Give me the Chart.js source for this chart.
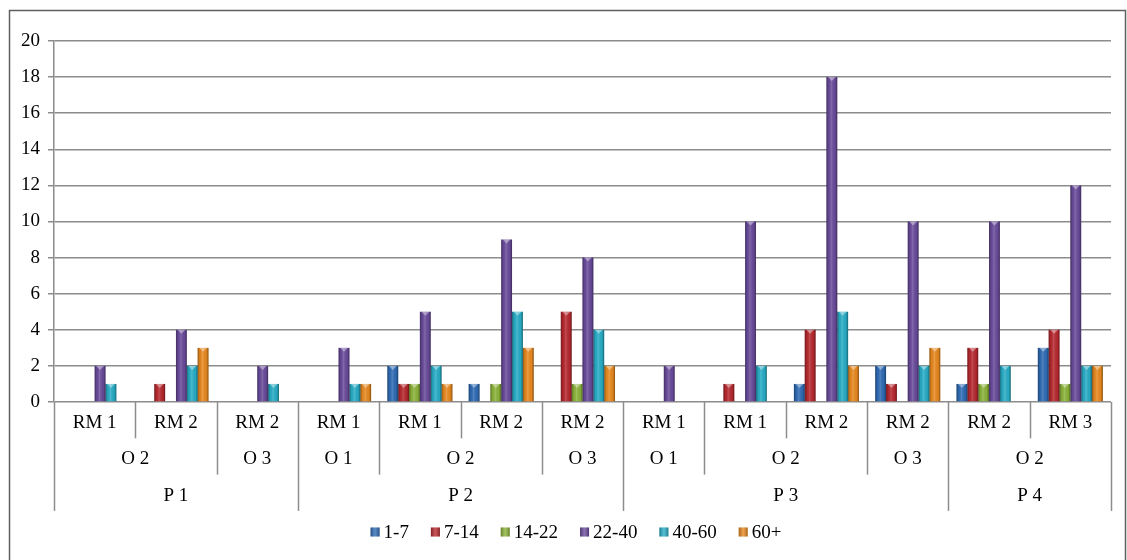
<!DOCTYPE html>
<html lang="en">
<head>
  <meta charset="UTF-8" />
  <title>Age groups per RM</title>
  <script src="https://cdn.jsdelivr.net/npm/chart.js"></script>
  <style>
    html, body { margin: 0; padding: 0; background: #fff; }
    .wrap { position: relative; width: 1127px; height: 560px; }
  </style>
</head>
<body>
  <div class="wrap"><canvas id="chart"></canvas></div>

  <script>
    // three levels of category labels
    const rmLabels = ['RM 1', 'RM 2', 'RM 2', 'RM 1', 'RM 1', 'RM 2', 'RM 2', 'RM 1', 'RM 1', 'RM 2', 'RM 2', 'RM 2', 'RM 3'];
    const oLabels  = ['O 2', 'O 2', 'O 3', 'O 1', 'O 2', 'O 2', 'O 3', 'O 1', 'O 2', 'O 2', 'O 3', 'O 2', 'O 2'];
    const pLabels  = ['P 1', 'P 1', 'P 1', 'P 2', 'P 2', 'P 2', 'P 2', 'P 3', 'P 3', 'P 3', 'P 3', 'P 4', 'P 4'];

    // series
    const ageGroups = ['1-7', '7-14', '14-22', '22-40', '40-60', '60+'];
    const age1to7   = [0, 0, 0, 0, 2, 1, 0, 0, 0, 1, 2, 1, 3];
    const age7to14  = [0, 1, 0, 0, 1, 0, 5, 0, 1, 4, 1, 3, 4];
    const age14to22 = [0, 0, 0, 0, 1, 1, 1, 0, 0, 0, 0, 1, 1];
    const age22to40 = [2, 4, 2, 3, 5, 9, 8, 2, 10, 18, 10, 10, 12];
    const age40to60 = [1, 2, 1, 1, 2, 5, 4, 0, 2, 5, 2, 2, 2];
    const age60plus = [0, 3, 0, 1, 1, 3, 2, 0, 0, 2, 3, 0, 2];

    const yMin = 0, yMax = 20, yStep = 2;

    const seriesValues = [age1to7, age7to14, age14to22, age22to40, age40to60, age60plus];
    const seriesColors = ['#2f6cb6', '#b8292f', '#8cb43a', '#6a4b9c', '#28aec8', '#ea8a1f'];

    const serif = '"Liberation Serif", "Times New Roman", serif';
    const fontPx = 19;
    const lineGray = '#8c8c8c';

    const decor = {
      id: 'decor',
      beforeDraw(chart) {
        const ctx = chart.ctx;
        ctx.save();
        ctx.strokeStyle = '#5f5f5f';
        ctx.lineWidth = 1.5;
        ctx.beginPath();
        ctx.moveTo(9.5, chart.height + 2);
        ctx.lineTo(9.5, 10.5);
        ctx.lineTo(1125.5, 10.5);
        ctx.lineTo(1125.5, chart.height + 2);
        ctx.stroke();
        ctx.restore();
      },
      afterDatasetsDraw(chart) {
        // bevel look of the bars
        const ctx = chart.ctx;
        ctx.save();
        chart.data.datasets.forEach((ds, di) => {
          const meta = chart.getDatasetMeta(di);
          meta.data.forEach((bar, i) => {
            if (!ds.data[i]) return;
            const p = bar.getProps(['x', 'y', 'base', 'width'], true);
            const l = p.x - p.width / 2, r = p.x + p.width / 2, h = p.base - p.y;
            const g = ctx.createLinearGradient(l, 0, r, 0);
            g.addColorStop(0, 'rgba(0,0,0,0.38)');
            g.addColorStop(0.2, 'rgba(0,0,0,0.05)');
            g.addColorStop(0.45, 'rgba(255,255,255,0.16)');
            g.addColorStop(0.8, 'rgba(0,0,0,0.04)');
            g.addColorStop(1, 'rgba(0,0,0,0.42)');
            ctx.fillStyle = g;
            ctx.fillRect(l, p.y, p.width, h);
            const cap = Math.min(4, h / 2);
            ctx.fillStyle = 'rgba(255,255,255,0.4)';
            ctx.beginPath();
            ctx.moveTo(l + 1.5, p.y);
            ctx.lineTo(r - 1.5, p.y);
            ctx.lineTo(p.x, p.y + cap);
            ctx.closePath();
            ctx.fill();
          });
        });
        ctx.restore();
      },
      afterDraw(chart) {
        const ctx = chart.ctx;
        const area = chart.chartArea;
        const xs = chart.scales.x;
        const n = rmLabels.length;
        const top = area.bottom;
        const rowH = 36.3;

        const edge = i => {
          if (i === 0) return area.left;
          if (i === n) return area.right;
          return (xs.getPixelForValue(i - 1) + xs.getPixelForValue(i)) / 2;
        };

        ctx.save();
        // divider lines
        ctx.strokeStyle = lineGray;
        ctx.lineWidth = 1.5;
        for (let i = 0; i <= n; i++) {
          let depth = 1;
          if (i === 0 || i === n || pLabels[i] !== pLabels[i - 1]) depth = 3;
          else if (oLabels[i] !== oLabels[i - 1]) depth = 2;
          const x = Math.round(edge(i)) + 0.5;
          ctx.beginPath();
          ctx.moveTo(x, top);
          ctx.lineTo(x, top + rowH * depth);
          ctx.stroke();
        }

        // labels
        ctx.fillStyle = '#000';
        ctx.font = `${fontPx}px ${serif}`;
        ctx.textAlign = 'center';
        ctx.textBaseline = 'middle';
        const rows = [
          rmLabels.map((v, i) => i + '|' + v),
          oLabels.map((v, i) => pLabels[i] + '|' + v),
          pLabels.map(v => v)
        ];
        const texts = [rmLabels, oLabels, pLabels];
        rows.forEach((keys, r) => {
          let start = 0;
          for (let i = 1; i <= n; i++) {
            if (i === n || keys[i] !== keys[start]) {
              const cx = (edge(start) + edge(i)) / 2;
              ctx.fillText(texts[r][start], cx, top + rowH * (r + 0.5) + 3);
              start = i;
            }
          }
        });

        // legend
        const box = 9, gapBox = 4, gapItem = 22;
        const widths = ageGroups.map(t => box + gapBox + ctx.measureText(t).width);
        const total = widths.reduce((a, b) => a + b, 0) + gapItem * (ageGroups.length - 1);
        let lx = 576 - total / 2;
        const ly = 532;
        ctx.textAlign = 'left';
        ageGroups.forEach((t, k) => {
          ctx.fillStyle = seriesColors[k];
          ctx.fillRect(lx, ly - box / 2, box, box);
          const g = ctx.createLinearGradient(lx, 0, lx + box, 0);
          g.addColorStop(0, 'rgba(0,0,0,0.3)');
          g.addColorStop(0.5, 'rgba(255,255,255,0.2)');
          g.addColorStop(1, 'rgba(0,0,0,0.3)');
          ctx.fillStyle = g;
          ctx.fillRect(lx, ly - box / 2, box, box);
          ctx.fillStyle = '#000';
          ctx.fillText(t, lx + box + gapBox, ly + 1);
          lx += widths[k] + gapItem;
        });
        ctx.restore();
      }
    };

    new Chart(document.getElementById('chart'), {
      type: 'bar',
      data: {
        labels: rmLabels,
        datasets: ageGroups.map((name, k) => ({
          label: name,
          data: seriesValues[k],
          backgroundColor: seriesColors[k],
          borderWidth: 0,
          categoryPercentage: 0.8,
          barPercentage: 1
        }))
      },
      options: {
        responsive: true,
        maintainAspectRatio: false,
        animation: false,
        events: [],
        layout: { padding: { left: 9, top: 41, right: 16, bottom: 158 } },
        plugins: {
          legend: { display: false },
          tooltip: { enabled: false }
        },
        scales: {
          x: { display: false },
          y: {
            min: yMin,
            max: yMax,
            afterFit(scale) { scale.width = 45; },
            ticks: {
              stepSize: yStep,
              padding: 8,
              color: '#000',
              font: { family: serif, size: fontPx }
            },
            grid: { color: lineGray, lineWidth: 1.5, tickLength: 6 },
            border: { color: lineGray, width: 1.5 }
          }
        }
      },
      plugins: [decor]
    });
  </script>
</body>
</html>
